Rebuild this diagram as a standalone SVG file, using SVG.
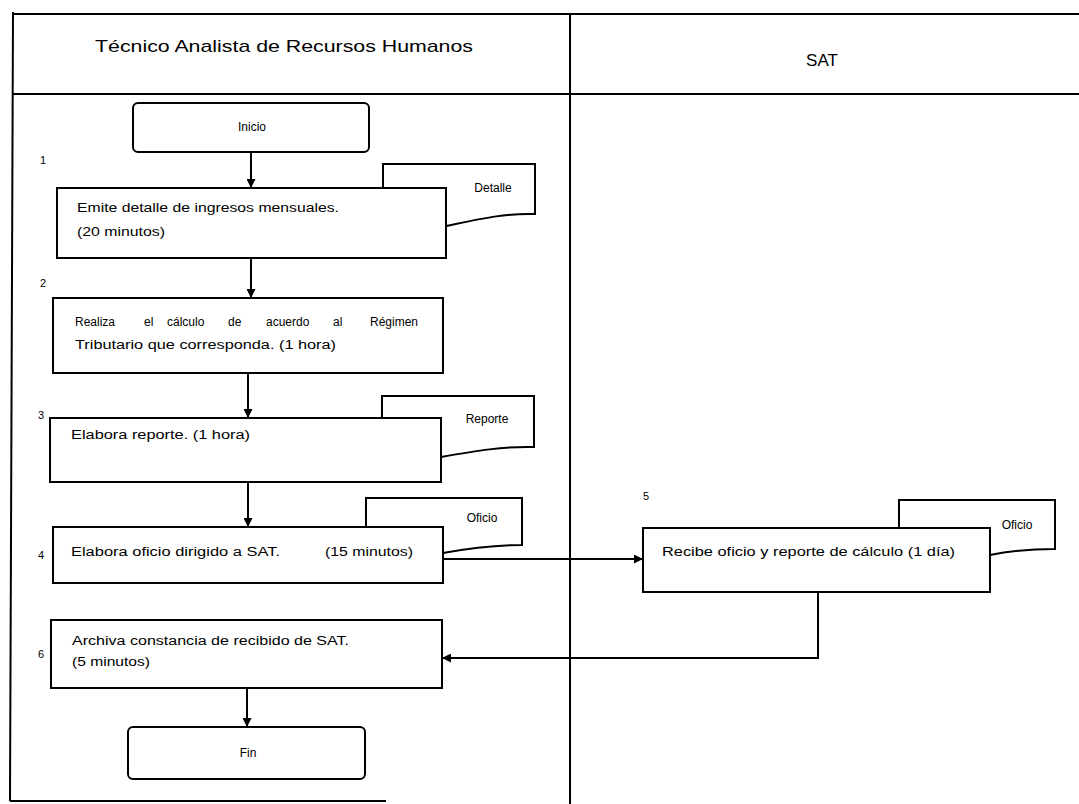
<svg xmlns="http://www.w3.org/2000/svg" width="1079" height="804" viewBox="0 0 1079 804">
  <style>
    .ln { fill: none; stroke: #000; stroke-width: 2; }
    .box { fill: #fff; stroke: #000; stroke-width: 2; }
    .doc { fill: #fff; stroke: #000; stroke-width: 2; }
    .t { font-family: "Liberation Sans", Arial, sans-serif; font-size: 12px; fill: #000; }
    .hd { font-family: "Liberation Sans", Arial, sans-serif; font-size: 17px; fill: #000; }
    .num { font-family: "Liberation Sans", Arial, sans-serif; font-size: 11px; fill: #000; }
  </style>
  <defs>
    <marker id="arr" markerWidth="9" markerHeight="9" refX="8" refY="4.5" orient="auto" markerUnits="userSpaceOnUse">
      <path d="M0,0 L9,4.5 L0,9 Z" fill="#000"/>
    </marker>
  </defs>

  <rect x="0" y="0" width="1079" height="804" fill="#fff"/>

  <!-- swimlane frame -->
  <g id="lanes">
    <path class="ln" d="M13,14 H1079"/>
    <path class="ln" d="M13,94 H1079"/>
    <path class="ln" d="M13,12 L10,801"/>
    <path class="ln" d="M10,801 H386"/>
    <path class="ln" d="M570,14 V804"/>
    <text class="hd" x="95" y="52" textLength="378" lengthAdjust="spacingAndGlyphs">Técnico Analista de Recursos Humanos</text>
    <text class="hd" x="822" y="66" text-anchor="middle">SAT</text>
  </g>

  <!-- documents behind the activity boxes -->
  <g id="doc-detalle">
    <path class="doc" d="M383,189 V164 H535 V214 C505,213 480,219 446,226"/>
    <text class="t" x="493" y="192" text-anchor="middle">Detalle</text>
  </g>
  <g id="doc-reporte">
    <path class="doc" d="M382,418 V396 H534 V447 C505,446 475,451 441,457"/>
    <text class="t" x="487" y="423" text-anchor="middle">Reporte</text>
  </g>
  <g id="doc-oficio-4">
    <path class="doc" d="M366,527 V498 H522 V545 C495,545 470,548 443,553"/>
    <text class="t" x="482" y="522" text-anchor="middle">Oficio</text>
  </g>
  <g id="doc-oficio-5">
    <path class="doc" d="M899,528 V500 H1055 V549 C1030,549 1010,551 990,555"/>
    <text class="t" x="1017" y="529" text-anchor="middle">Oficio</text>
  </g>

  <g id="inicio">
    <rect class="box" x="133" y="103" width="236" height="49" rx="5"/>
    <text class="t" x="252" y="131" text-anchor="middle">Inicio</text>
  </g>

  <g id="step1">
    <text class="num" x="40" y="164">1</text>
    <rect class="box" x="57" y="188" width="389" height="70"/>
    <text class="t" x="77" y="212" textLength="262" lengthAdjust="spacingAndGlyphs">Emite detalle de ingresos mensuales.</text>
    <text class="t" x="77" y="236" textLength="88" lengthAdjust="spacingAndGlyphs">(20 minutos)</text>
  </g>

  <g id="step2">
    <text class="num" x="40" y="287">2</text>
    <rect class="box" x="53" y="298" width="390" height="75"/>
    <text class="t" y="326"><tspan x="75">Realiza</tspan><tspan x="144">el</tspan><tspan x="167">cálculo</tspan><tspan x="228">de</tspan><tspan x="266">acuerdo</tspan><tspan x="333">al</tspan><tspan x="370">Régimen</tspan></text>
    <text class="t" x="75" y="349" textLength="261" lengthAdjust="spacingAndGlyphs">Tributario que corresponda. (1 hora)</text>
  </g>

  <g id="step3">
    <text class="num" x="38" y="419">3</text>
    <rect class="box" x="50" y="418" width="391" height="64"/>
    <text class="t" x="71" y="439" textLength="179" lengthAdjust="spacingAndGlyphs">Elabora reporte. (1 hora)</text>
  </g>

  <g id="step4">
    <text class="num" x="38" y="559">4</text>
    <rect class="box" x="53" y="527" width="390" height="56"/>
    <text class="t" x="71" y="556" textLength="209" lengthAdjust="spacingAndGlyphs">Elabora oficio dirigido a SAT.</text>
    <text class="t" x="325" y="556" textLength="88" lengthAdjust="spacingAndGlyphs">(15 minutos)</text>
  </g>

  <g id="step5">
    <text class="num" x="643" y="500">5</text>
    <rect class="box" x="643" y="528" width="347" height="64"/>
    <text class="t" x="662" y="556" textLength="293" lengthAdjust="spacingAndGlyphs">Recibe oficio y reporte de cálculo (1 día)</text>
  </g>

  <g id="step6">
    <text class="num" x="38" y="658">6</text>
    <rect class="box" x="51" y="620" width="391" height="68"/>
    <text class="t" x="72" y="645" textLength="277" lengthAdjust="spacingAndGlyphs">Archiva constancia de recibido de SAT.</text>
    <text class="t" x="72" y="666" textLength="78" lengthAdjust="spacingAndGlyphs">(5 minutos)</text>
  </g>

  <g id="fin">
    <rect class="box" x="128" y="727" width="237" height="52" rx="5"/>
    <text class="t" x="248" y="757" text-anchor="middle">Fin</text>
  </g>

  <!-- flow connectors -->
  <g id="connectors">
    <path class="ln" d="M251,152 V187" marker-end="url(#arr)"/>
    <path class="ln" d="M251,258 V297" marker-end="url(#arr)"/>
    <path class="ln" d="M248,373 V417" marker-end="url(#arr)"/>
    <path class="ln" d="M248,482 V526" marker-end="url(#arr)"/>
    <path class="ln" d="M443,559 H642" marker-end="url(#arr)"/>
    <path class="ln" d="M818,592 V658 H443" marker-end="url(#arr)"/>
    <path class="ln" d="M247,688 V726" marker-end="url(#arr)"/>
  </g>
</svg>
